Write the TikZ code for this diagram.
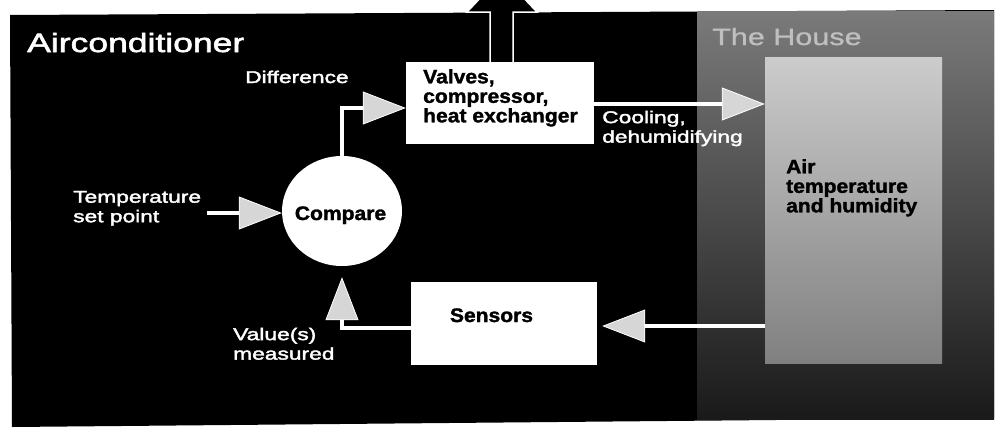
\documentclass[tikz,border=0pt]{standalone}
\usepackage{fontspec}
\setmainfont{Liberation Sans}
\newfontfamily\wfont[FakeStretch=1.34,FakeBold=2.2]{Liberation Sans}
\newfontfamily\bfont[FakeStretch=1.08,FakeBold=1.6]{Liberation Sans Bold}
\newfontfamily\hfont[FakeStretch=1.3,FakeBold=1]{Liberation Sans}
\usetikzlibrary{arrows.meta,shapes.geometric}
\definecolor{tipgray}{gray}{0.84}
\tikzset{
  wlabel/.style={text=white, inner sep=0pt, font=\wfont\fontsize{17}{19.5}\selectfont},
  blabel/.style={text=black, inner sep=0pt, font=\bfont\fontsize{19.5}{19.5}\selectfont},
  whitebox/.style={fill=white, draw=none, inner sep=0pt},
  flow/.style={draw=white, line width=4pt,
    -{Triangle[length=43pt,width=33pt,fill=tipgray,line width=0.8pt]}},
}
\begin{document}
\begin{tikzpicture}[x=1pt,y=-1pt]
\useasboundingbox (0,0) rectangle (997,434);
\clip (0,0) rectangle (997,434);
\fill[white] (0,0) rectangle (997,434);
% frame
\fill[black] (10,15) -- (994,10) -- (994,418) -- (12,427) -- cycle;
% the house
\node[rectangle, inner sep=0pt, minimum width=297pt, minimum height=408pt,
      top color=black!52, bottom color=black!90] (house) at (845.5,215) {};
\node[rectangle, inner sep=0pt, minimum width=177pt, minimum height=306pt,
      top color=black!20, bottom color=black!50] (air) at (853.5,210) {};
\node[anchor=base west, inner sep=0pt, text=white!75!black,
      font=\hfont\fontsize{23.5}{24}\selectfont] (housetitle) at (712,45) {The House};
\node[blabel, anchor=north west, align=left] (airtext) at (786,159)
  {Air\\temperature\\and humidity};
% title and labels
\node[wlabel, anchor=base west, font=\wfont\fontsize{26.5}{28}\selectfont] (actitle) at (27,52) {Airconditioner};
\node[wlabel, anchor=base west] (difference) at (245,83) {Difference};
\node[wlabel, anchor=north west, align=left] (setpoint) at (73,190.8) {Temperature\\set point};
\node[wlabel, anchor=north west, align=left] (measured) at (233,327.6) {Value(s)\\measured};
\node[wlabel, anchor=north west, align=left] (cooling) at (602,110.6) {Cooling,\\dehumidifying};
% up arrow out of the valves
\coordinate (vtop) at (500,62);
\draw[fill=black, draw=white, line width=1.5pt]
  ([xshift=-10pt]vtop) -- ++(0,-50) -- ++(-23,0) -- (502,-25) -- (537,12) -- (513,12) -- ([xshift=13pt]vtop);
% boxes
\node[whitebox, minimum width=188pt, minimum height=82pt] (valves) at (500,103) {};
\node[blabel, anchor=north west, align=left] (valvestext) at (423,69)
  {Valves,\\compressor,\\heat exchanger};
\node[ellipse, fill=white, inner sep=0pt, minimum width=120pt, minimum height=110pt] (compare) at (342,211) {};
\node[blabel, anchor=base] (comparetext) at (340.5,220) {Compare};
\node[whitebox, minimum width=186pt, minimum height=83pt] (sensors) at (504,323.5) {};
\node[blabel, anchor=base] (sensorstext) at (491.5,322) {Sensors};
% connectors
\coordinate (spin) at (207,213);
\draw[flow] (spin) -- (spin -| compare.west);
\draw[flow] (compare.north) |- ([yshift=-5pt]valves.west);
\draw[flow] ([yshift=-1pt]valves.east) -- ([yshift=-1pt]valves.east -| air.west);
\draw[flow, shorten >=5pt] ([yshift=-2.5pt]sensors.east -| air.west) -- ([yshift=-2.5pt]sensors.east);
\draw[flow, shorten >=11pt] ([yshift=-4.5pt]sensors.west) -| (compare.south);
\end{tikzpicture}
\end{document}
